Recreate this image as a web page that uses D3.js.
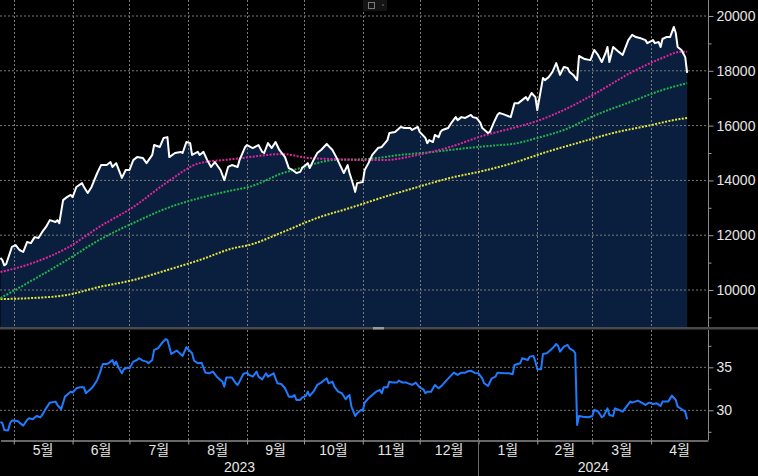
<!DOCTYPE html>
<html><head><meta charset="utf-8">
<script src="https://cdn.jsdelivr.net/npm/d3@7"></script>
<style>html,body{margin:0;padding:0;background:#000;overflow:hidden}</style>
</head><body><svg id="c" width="758" height="476"></svg>
<script>
const priceData = [["2023-04-24",11170],["2023-04-25",11090],["2023-04-26",10900],["2023-04-27",10950],["2023-04-30",11570],["2023-05-02",11640],["2023-05-04",11460],["2023-05-06",11390],["2023-05-08",11750],["2023-05-10",11710],["2023-05-12",11930],["2023-05-14",11900],["2023-05-16",12120],["2023-05-18",12300],["2023-05-20",12550],["2023-05-23",12480],["2023-05-24",12550],["2023-05-25",12440],["2023-05-27",13280],["2023-05-29",13390],["2023-05-31",13470],["2023-06-01",13390],["2023-06-03",13760],["2023-06-06",13900],["2023-06-07",13760],["2023-06-09",13540],["2023-06-11",13760],["2023-06-14",14270],["2023-06-16",14560],["2023-06-19",14560],["2023-06-21",14670],["2023-06-22",14490],["2023-06-24",14630],["2023-06-27",14090],["2023-06-29",14380],["2023-07-01",14380],["2023-07-03",14740],["2023-07-05",14850],["2023-07-08",14820],["2023-07-10",14630],["2023-07-13",14930],["2023-07-14",15290],["2023-07-17",15220],["2023-07-19",15550],["2023-07-21",15580],["2023-07-22",14850],["2023-07-25",15000],["2023-07-28",15040],["2023-07-29",15000],["2023-07-31",15400],["2023-08-02",15360],["2023-08-03",14930],["2023-08-06",15040],["2023-08-07",14930],["2023-08-09",15040],["2023-08-11",14740],["2023-08-13",14490],["2023-08-15",14670],["2023-08-18",14380],["2023-08-20",14010],["2023-08-22",14490],["2023-08-24",14560],["2023-08-27",14490],["2023-08-28",14740],["2023-08-31",15220],["2023-09-01",15290],["2023-09-04",15180],["2023-09-07",15290],["2023-09-09",15040],["2023-09-10",15000],["2023-09-12",15360],["2023-09-14",15180],["2023-09-16",15400],["2023-09-18",15110],["2023-09-21",14850],["2023-09-23",14450],["2023-09-25",14380],["2023-09-27",14270],["2023-09-29",14310],["2023-09-30",14450],["2023-10-03",14630],["2023-10-04",14450],["2023-10-06",14740],["2023-10-08",15000],["2023-10-10",15110],["2023-10-13",15330],["2023-10-15",15180],["2023-10-16",15110],["2023-10-18",14850],["2023-10-20",14560],["2023-10-22",14270],["2023-10-24",14560],["2023-10-25",14270],["2023-10-27",13830],["2023-10-28",13580],["2023-10-29",13900],["2023-11-01",13940],["2023-11-02",14380],["2023-11-04",14630],["2023-11-06",14930],["2023-11-09",15180],["2023-11-11",15220],["2023-11-14",15470],["2023-11-15",15730],["2023-11-18",15770],["2023-11-21",15950],["2023-11-23",15910],["2023-11-26",15910],["2023-11-27",15840],["2023-11-30",15950],["2023-12-01",15770],["2023-12-04",15550],["2023-12-05",15360],["2023-12-06",15470],["2023-12-08",15400],["2023-12-09",15660],["2023-12-11",15580],["2023-12-12",15770],["2023-12-13",15840],["2023-12-16",15910],["2023-12-18",16130],["2023-12-20",16310],["2023-12-21",16200],["2023-12-23",16310],["2023-12-25",16280],["2023-12-28",16390],["2023-12-29",16310],["2023-12-31",16280],["2024-01-02",16100],["2024-01-03",15910],["2024-01-06",15730],["2024-01-07",15770],["2024-01-09",16100],["2024-01-11",16390],["2024-01-12",16460],["2024-01-14",16420],["2024-01-18",16310],["2024-01-20",16820],["2024-01-22",16820],["2024-01-24",16930],["2024-01-26",17040],["2024-01-27",16930],["2024-01-29",17190],["2024-01-31",17040],["2024-02-01",16570],["2024-02-04",17740],["2024-02-05",17660],["2024-02-07",17770],["2024-02-09",17960],["2024-02-11",18280],["2024-02-13",17850],["2024-02-15",18140],["2024-02-17",18100],["2024-02-18",17960],["2024-02-20",17850],["2024-02-22",17660],["2024-02-23",18540],["2024-02-26",18430],["2024-02-29",18390],["2024-03-02",18760],["2024-03-04",18580],["2024-03-06",18320],["2024-03-08",18650],["2024-03-09",18870],["2024-03-10",18320],["2024-03-12",18870],["2024-03-15",18690],["2024-03-17",18580],["2024-03-20",19120],["2024-03-22",19310],["2024-03-24",19230],["2024-03-26",19200],["2024-03-29",19120],["2024-03-30",19010],["2024-04-02",19120],["2024-04-03",19010],["2024-04-05",19050],["2024-04-06",18870],["2024-04-07",19160],["2024-04-09",19230],["2024-04-11",19230],["2024-04-13",19600],["2024-04-14",19380],["2024-04-15",18870],["2024-04-17",18760],["2024-04-19",18500],["2024-04-20",17920]];

const ma50Data = [["2023-04-24",10656],["2023-05-11",10985],["2023-05-29",11530],["2023-06-15",12300],["2023-07-03",13030],["2023-07-21",13940],["2023-08-07",14630],["2023-08-25",14780],["2023-09-02",14850],["2023-09-20",14960],["2023-10-03",14820],["2023-10-16",14780],["2023-11-03",14740],["2023-11-12",14740],["2023-11-30",14930],["2023-12-17",15220],["2024-01-03",15620],["2024-01-19",15910],["2024-02-01",16170],["2024-02-15",16570],["2024-03-03",17190],["2024-03-21",17920],["2024-04-07",18470],["2024-04-16",18690],["2024-04-20",18700]];

const ma100Data = [["2023-04-24",9707],["2023-05-11",10364],["2023-05-29",11094],["2023-06-15",11824],["2023-07-03",12445],["2023-07-21",12992],["2023-08-07",13357],["2023-08-25",13649],["2023-09-02",13760],["2023-09-20",14270],["2023-09-29",14450],["2023-10-16",14740],["2023-11-03",14780],["2023-11-21",14930],["2023-12-08",15040],["2023-12-26",15180],["2024-01-12",15290],["2024-01-19",15330],["2024-02-01",15550],["2024-02-15",15840],["2024-03-03",16390],["2024-03-21",16860],["2024-04-07",17300],["2024-04-20",17550]];

const ma200Data = [["2023-04-24",9670],["2023-05-11",9707],["2023-05-29",9817],["2023-06-15",10110],["2023-07-03",10364],["2023-07-21",10730],["2023-08-07",11094],["2023-08-25",11530],["2023-09-02",11640],["2023-09-20",12120],["2023-10-08",12630],["2023-10-25",12990],["2023-11-12",13390],["2023-11-30",13760],["2023-12-17",14090],["2024-01-03",14340],["2024-01-19",14630],["2024-02-06",15040],["2024-02-24",15400],["2024-03-12",15730],["2024-03-30",15990],["2024-04-16",16240],["2024-04-20",16280]];

const lowerData = [["2023-04-24",28.68],["2023-04-25",28.49],["2023-04-26",27.71],["2023-04-28",27.64],["2023-04-29",28.49],["2023-04-30",28.80],["2023-05-03",28.76],["2023-05-04",28.57],["2023-05-06",28.22],["2023-05-08",28.88],["2023-05-09",29.07],["2023-05-11",28.95],["2023-05-13",29.34],["2023-05-15",29.19],["2023-05-16",29.46],["2023-05-18",30.23],["2023-05-20",30.89],["2023-05-23",31.01],["2023-05-24",30.62],["2023-05-26",30.12],["2023-05-28",31.59],["2023-05-29",31.78],["2023-05-31",32.17],["2023-06-01",32.05],["2023-06-03",32.56],["2023-06-05",32.67],["2023-06-07",32.67],["2023-06-08",31.98],["2023-06-11",32.56],["2023-06-12",32.83],["2023-06-14",33.53],["2023-06-15",34.11],["2023-06-17",35.39],["2023-06-19",35.39],["2023-06-20",35.47],["2023-06-22",35.85],["2023-06-23",35.27],["2023-06-24",35.66],["2023-06-25",35.08],["2023-06-27",34.30],["2023-06-28",34.77],["2023-06-30",34.96],["2023-07-01",34.88],["2023-07-03",35.66],["2023-07-05",35.85],["2023-07-06",36.05],["2023-07-08",35.78],["2023-07-10",35.66],["2023-07-11",35.47],["2023-07-13",35.85],["2023-07-14",37.02],["2023-07-16",37.21],["2023-07-18",37.79],["2023-07-20",38.26],["2023-07-21",38.18],["2023-07-22",37.40],["2023-07-23",36.55],["2023-07-25",36.82],["2023-07-26",36.94],["2023-07-29",36.32],["2023-07-31",37.33],["2023-08-01",37.09],["2023-08-03",36.63],["2023-08-04",35.78],["2023-08-06",35.47],["2023-08-08",35.54],["2023-08-10",34.38],["2023-08-12",34.30],["2023-08-14",34.50],["2023-08-16",33.91],["2023-08-19",33.33],["2023-08-20",32.75],["2023-08-21",33.80],["2023-08-24",33.80],["2023-08-26",33.14],["2023-08-27",32.95],["2023-08-28",33.33],["2023-08-30",34.22],["2023-09-01",34.38],["2023-09-02",34.11],["2023-09-04",33.91],["2023-09-06",34.50],["2023-09-07",33.91],["2023-09-09",33.60],["2023-09-11",34.30],["2023-09-12",33.91],["2023-09-15",34.30],["2023-09-17",33.14],["2023-09-19",33.06],["2023-09-21",32.56],["2023-09-23",31.59],["2023-09-25",31.59],["2023-09-26",31.78],["2023-09-27",31.20],["2023-09-29",31.20],["2023-09-30",31.47],["2023-10-02",31.67],["2023-10-03",32.17],["2023-10-04",31.67],["2023-10-06",32.17],["2023-10-08",32.95],["2023-10-10",33.22],["2023-10-13",33.72],["2023-10-14",33.14],["2023-10-16",33.33],["2023-10-17",32.75],["2023-10-19",32.17],["2023-10-21",31.98],["2023-10-23",31.28],["2023-10-24",31.59],["2023-10-25",31.78],["2023-10-26",30.43],["2023-10-28",29.34],["2023-10-29",29.65],["2023-10-31",30.04],["2023-11-01",29.96],["2023-11-02",30.89],["2023-11-04",31.40],["2023-11-06",31.78],["2023-11-08",32.17],["2023-11-10",32.36],["2023-11-11",31.98],["2023-11-12",32.67],["2023-11-14",32.67],["2023-11-15",33.33],["2023-11-17",33.22],["2023-11-19",33.22],["2023-11-20",33.45],["2023-11-22",33.22],["2023-11-24",33.22],["2023-11-27",32.95],["2023-11-29",33.22],["2023-12-01",32.67],["2023-12-03",32.44],["2023-12-04",31.98],["2023-12-05",32.17],["2023-12-07",32.17],["2023-12-09",32.95],["2023-12-11",32.56],["2023-12-13",32.95],["2023-12-15",33.45],["2023-12-17",33.91],["2023-12-19",34.38],["2023-12-21",34.11],["2023-12-23",34.38],["2023-12-25",34.38],["2023-12-26",34.50],["2023-12-28",34.60],["2023-12-30",34.35],["2024-01-01",34.30],["2024-01-03",33.72],["2024-01-04",33.14],["2024-01-06",32.83],["2024-01-08",33.72],["2024-01-10",33.91],["2024-01-11",34.38],["2024-01-14",34.30],["2024-01-17",34.30],["2024-01-19",34.19],["2024-01-20",35.27],["2024-01-23",35.47],["2024-01-24",36.05],["2024-01-27",35.85],["2024-01-28",36.24],["2024-01-30",36.32],["2024-01-31",35.66],["2024-02-01",34.77],["2024-02-03",34.77],["2024-02-04",36.55],["2024-02-06",36.63],["2024-02-08",37.02],["2024-02-09",37.21],["2024-02-11",37.71],["2024-02-12",37.48],["2024-02-13",36.82],["2024-02-15",37.40],["2024-02-17",37.60],["2024-02-18",37.21],["2024-02-20",36.94],["2024-02-21",36.63],["2024-02-22",28.29],["2024-02-23",29.34],["2024-02-25",29.26],["2024-02-28",29.19],["2024-03-01",29.34],["2024-03-02",30.04],["2024-03-04",29.88],["2024-03-06",29.19],["2024-03-07",29.34],["2024-03-09",30.23],["2024-03-10",29.46],["2024-03-12",29.34],["2024-03-13",30.23],["2024-03-15",30.04],["2024-03-17",29.84],["2024-03-19",30.43],["2024-03-21",31.01],["2024-03-22",30.89],["2024-03-25",31.12],["2024-03-27",30.89],["2024-03-29",30.62],["2024-03-31",30.89],["2024-04-02",30.74],["2024-04-04",30.81],["2024-04-06",30.50],["2024-04-07",31.01],["2024-04-10",31.01],["2024-04-12",31.71],["2024-04-14",31.20],["2024-04-15",30.43],["2024-04-17",30.15],["2024-04-19",29.84],["2024-04-20",28.95]];

const priceTicks = [10000,12000,14000,16000,18000,20000];
const priceMinorTicks = [9000,11000,13000,15000,17000,19000];
const lowerTicks = [30,35];
const lowerMinorTicks = [27.5,32.5,37.5];
const monthLabels = ["5월","6월","7월","8월","9월","10월","11월","12월","1월","2월","3월","4월"];
const yearLabels = ["2023","2024"];

const parse = d3.timeParse("%Y-%m-%d");
const toPts = arr => arr.map(d => ({date: parse(d[0]), value: d[1]}));
const price = toPts(priceData), ma50 = toPts(ma50Data), ma100 = toPts(ma100Data),
      ma200 = toPts(ma200Data), lower = toPts(lowerData);

const AX = 708, TOP_B = 327, LOW_T = 330, LOW_B = 440;
const FONT = "'Liberation Sans', Arial, 'Noto Sans CJK KR', sans-serif";

const x = d3.scaleTime().domain([parse("2023-04-24"), parse("2024-05-01")]).range([0.5, AX]);
const yTop = d3.scaleLinear().domain([10000, 20000]).range([290, 16]);
const yLow = d3.scaleLinear().domain([30, 35]).range([410.3, 367.3]);

const svg = d3.select("#c");
svg.append("rect").attr("width", 758).attr("height", 476).attr("fill", "#000");

const defs = svg.append("defs");
defs.append("clipPath").attr("id", "clipTop").append("rect").attr("x", 0).attr("y", 0).attr("width", AX).attr("height", TOP_B);
defs.append("clipPath").attr("id", "clipLow").append("rect").attr("x", 0).attr("y", LOW_T).attr("width", AX).attr("height", LOW_B - LOW_T);

const months = d3.timeMonth.range(parse("2023-05-01"), parse("2024-05-01"));
const gridColor = "#7a7a7a";

// ---------- Top panel ----------
const topG = svg.append("g").attr("clip-path", "url(#clipTop)");
topG.append("path").datum(price)
  .attr("fill", "#0a1f3d")
  .attr("d", d3.area().x(d => x(d.date)).y0(TOP_B).y1(d => yTop(d.value)));

topG.selectAll(".hg").data(priceTicks).join("line")
  .attr("x1", 0).attr("x2", AX).attr("y1", d => yTop(d)).attr("y2", d => yTop(d))
  .attr("stroke", gridColor).attr("stroke-dasharray", "2,2").attr("stroke-width", 1);
topG.selectAll(".vg").data(months).join("line")
  .attr("x1", d => Math.round(x(d)) + 0.5).attr("x2", d => Math.round(x(d)) + 0.5)
  .attr("y1", 0).attr("y2", TOP_B)
  .attr("stroke", gridColor).attr("stroke-dasharray", "2,2").attr("stroke-width", 1);

const lineTop = d3.line().x(d => x(d.date)).y(d => yTop(d.value));
const lineTopSmooth = d3.line().x(d => x(d.date)).y(d => yTop(d.value)).curve(d3.curveMonotoneX);
[[ma200, "#e4e43c"], [ma100, "#22b24a"], [ma50, "#e0249e"]].forEach(([data, col]) => {
  topG.append("path").datum(data).attr("fill", "none").attr("stroke", col)
    .attr("stroke-width", 2).attr("stroke-dasharray", "2,1.4").attr("d", lineTopSmooth);
});
topG.append("path").datum(price).attr("fill", "none").attr("stroke", "#ffffff")
  .attr("stroke-width", 2).attr("stroke-linejoin", "round").attr("d", lineTop);

// small icon at top
svg.append("rect").attr("x", 363).attr("y", 0).attr("width", 24).attr("height", 11).attr("fill", "#141414");
svg.append("rect").attr("x", 368.5).attr("y", 2.5).attr("width", 6).attr("height", 6).attr("fill", "none").attr("stroke", "#7a7a7a");
svg.append("circle").attr("cx", 383).attr("cy", 5).attr("r", 1).attr("fill", "#555");

// top right axis
svg.append("line").attr("x1", AX + 0.5).attr("x2", AX + 0.5).attr("y1", 0).attr("y2", TOP_B)
  .attr("stroke", "#8a8a8a");
const styleAxis = g => {
  g.select(".domain").remove();
  g.selectAll("line").attr("stroke", "#9a9a9a");
  g.selectAll("text").attr("fill", "#e6e6e6").attr("font-size", 14).attr("font-family", FONT);
};
svg.append("g").attr("transform", `translate(${AX + 0.5},0)`)
  .call(d3.axisRight(yTop).tickValues(priceTicks).tickSize(5).tickPadding(3).tickFormat(d3.format("d")))
  .call(styleAxis);
svg.append("g").attr("transform", `translate(${AX + 0.5},0)`)
  .call(d3.axisRight(yTop).tickValues(priceMinorTicks).tickSize(3).tickFormat(""))
  .call(styleAxis);

// separator
svg.append("rect").attr("x", 0).attr("y", TOP_B).attr("width", 758).attr("height", 2.5).attr("fill", "#4a4a4a");
svg.append("rect").attr("x", 373).attr("y", TOP_B).attr("width", 11).attr("height", 2.5).attr("fill", "#9a9a9a");

// ---------- Lower panel ----------
const lowG = svg.append("g").attr("clip-path", "url(#clipLow)");
lowG.selectAll(".hg").data(lowerTicks).join("line")
  .attr("x1", 0).attr("x2", AX).attr("y1", d => yLow(d)).attr("y2", d => yLow(d))
  .attr("stroke", gridColor).attr("stroke-dasharray", "2,2");
lowG.selectAll(".vg").data(months).join("line")
  .attr("x1", d => Math.round(x(d)) + 0.5).attr("x2", d => Math.round(x(d)) + 0.5)
  .attr("y1", LOW_T).attr("y2", LOW_B)
  .attr("stroke", gridColor).attr("stroke-dasharray", "2,2");
lowG.append("path").datum(lower).attr("fill", "none").attr("stroke", "#1f7bff")
  .attr("stroke-width", 2).attr("stroke-linejoin", "round")
  .attr("d", d3.line().x(d => x(d.date)).y(d => yLow(d.value)));

svg.append("line").attr("x1", AX + 0.5).attr("x2", AX + 0.5).attr("y1", LOW_T).attr("y2", LOW_B)
  .attr("stroke", "#8a8a8a");
svg.append("g").attr("transform", `translate(${AX + 0.5},0)`)
  .call(d3.axisRight(yLow).tickValues(lowerTicks).tickSize(5).tickPadding(3).tickFormat(d3.format("d")))
  .call(styleAxis);
svg.append("g").attr("transform", `translate(${AX + 0.5},0)`)
  .call(d3.axisRight(yLow).tickValues(lowerMinorTicks).tickSize(3).tickFormat(""))
  .call(styleAxis);

// ---------- Bottom time axis ----------
const xAxisG = svg.append("g").attr("transform", `translate(0,${LOW_B + 0.5})`)
  .call(d3.axisBottom(x).tickValues(months).tickSize(4).tickSizeOuter(0).tickFormat(""));
xAxisG.select(".domain").attr("stroke", "#cfcfcf");
xAxisG.selectAll("line").attr("stroke", "#9a9a9a");

const yearStart = parse("2024-01-01");
svg.append("line").attr("x1", Math.round(x(yearStart)) + 0.5).attr("x2", Math.round(x(yearStart)) + 0.5)
  .attr("y1", LOW_B).attr("y2", 476).attr("stroke", "#6a6a6a");

svg.selectAll(".mlab").data(months).join("text")
  .attr("x", (d, i) => (x(d) + x(d3.timeMonth.offset(d, 1))) / 2)
  .attr("y", 455)
  .attr("text-anchor", "middle").attr("fill", "#e6e6e6")
  .attr("font-size", 14).attr("font-family", FONT)
  .text((d, i) => monthLabels[i]);

const yearBounds = [[x.range()[0], x(yearStart)], [x(yearStart), AX]];
svg.selectAll(".ylab").data(yearLabels).join("text")
  .attr("x", (d, i) => (yearBounds[i][0] + yearBounds[i][1]) / 2)
  .attr("y", 472)
  .attr("text-anchor", "middle").attr("fill", "#e6e6e6")
  .attr("font-size", 14).attr("font-family", FONT)
  .text(d => d);
</script>
</body></html>
